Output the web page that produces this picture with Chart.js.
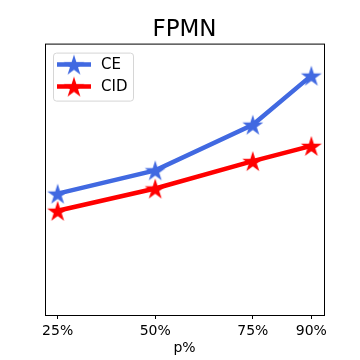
<!DOCTYPE html>
<html>
<head>
<meta charset="utf-8">
<script src="https://cdn.jsdelivr.net/npm/chart.js@4"></script>
<style>
  html, body { margin: 0; padding: 0; background: #fff; }
  #wrap { width: 360px; height: 360px; }
</style>
</head>
<body>
<div id="wrap"><canvas id="fpmnChart" width="360" height="360"></canvas></div>
<script>
// data
const pValues = [25, 50, 75, 90];
const ceValues = [0.447, 0.533, 0.701, 0.882];
const cidValues = [0.384, 0.466, 0.567, 0.623];
const seriesNames = ["CE", "CID"];

const FONT = "'DejaVu Sans', sans-serif";

// filled 5-point star used as marker
function makeStar(color, R) {
  const c = document.createElement("canvas");
  const s = Math.ceil(2 * R + 4);
  c.width = s; c.height = s;
  const g = c.getContext("2d");
  const r = R * 0.382;
  g.beginPath();
  for (let i = 0; i < 10; i++) {
    const rad = i % 2 === 0 ? R : r;
    const a = -Math.PI / 2 + i * Math.PI / 5;
    const x = s / 2 + rad * Math.cos(a);
    const y = s / 2 + R * 0.1 + rad * Math.sin(a);
    i === 0 ? g.moveTo(x, y) : g.lineTo(x, y);
  }
  g.closePath();
  g.fillStyle = color;
  g.fill();
  return c;
}

const blueStar = makeStar("#4169e1", 11);
const redStar = makeStar("#ff0000", 11);

// box around the plot + matplotlib style legend
const framePlugin = {
  id: "frame",
  afterDraw(chart) {
    const { ctx, chartArea: a } = chart;
    ctx.save();
    ctx.strokeStyle = "#000";
    ctx.lineWidth = 1;
    ctx.strokeRect(a.left + 0.5, a.top + 0.5, a.right - a.left, a.bottom - a.top);

    // legend
    const lx = a.left + 8, ly = a.top + 9, lw = 80, lh = 48;
    ctx.fillStyle = "rgba(255,255,255,0.8)";
    ctx.strokeStyle = "#d6d6d6";
    ctx.beginPath();
    ctx.roundRect(lx + 0.5, ly + 0.5, lw, lh, 3);
    ctx.fill();
    ctx.stroke();
    ctx.font = "15px " + FONT;
    ctx.textBaseline = "middle";
    chart.data.datasets.forEach((ds, i) => {
      const y = ly + 12 + i * 22;
      ctx.strokeStyle = ds.borderColor;
      ctx.lineWidth = 4.5;
      ctx.beginPath();
      ctx.moveTo(lx + 4, y);
      ctx.lineTo(lx + 38, y);
      ctx.stroke();
      const img = ds.pointStyle;
      ctx.drawImage(img, lx + 21 - img.width / 2, y - img.height / 2);
      ctx.fillStyle = "#000";
      ctx.fillText(ds.label, lx + 48, y + 1);
    });
    ctx.restore();
  },
};

new Chart(document.getElementById("fpmnChart").getContext("2d"), {
  type: "line",
  data: {
    datasets: [
      {
        label: seriesNames[0],
        data: pValues.map((p, i) => ({ x: p, y: ceValues[i] })),
        borderColor: "#4169e1",
        backgroundColor: "#4169e1",
        borderWidth: 4.5,
        pointStyle: blueStar,
      },
      {
        label: seriesNames[1],
        data: pValues.map((p, i) => ({ x: p, y: cidValues[i] })),
        borderColor: "#ff0000",
        backgroundColor: "#ff0000",
        borderWidth: 4.5,
        pointStyle: redStar,
      },
    ],
  },
  options: {
    responsive: false,
    animation: false,
    layout: { padding: { left: 45, right: 36, top: 0, bottom: 0 } },
    plugins: {
      legend: { display: false },
      tooltip: { enabled: false },
      title: {
        display: true,
        text: "FPMN",
        color: "#000",
        font: { family: FONT, size: 23, weight: "normal" },
        padding: { top: 16, bottom: 0 },
      },
    },
    scales: {
      x: {
        type: "linear",
        min: 21.75,
        max: 93.25,
        afterBuildTicks: (scale) => {
          scale.ticks = pValues.map((v) => ({ value: v }));
        },
        afterFit: (scale) => {
          scale.height = 45;
        },
        border: { display: false },
        grid: { drawOnChartArea: false, drawTicks: true, tickLength: 4, color: "#000" },
        ticks: {
          color: "#000",
          padding: 4,
          maxRotation: 0,
          font: { family: FONT, size: 14 },
          callback: (v) => v + "%",
        },
        title: {
          display: true,
          text: "p%",
          color: "#000",
          font: { family: FONT, size: 14 },
          padding: { top: 0, bottom: 3 },
        },
      },
      y: {
        display: false,
        min: 0,
        max: 1,
      },
    },
  },
  plugins: [framePlugin],
});
</script>
</body>
</html>
